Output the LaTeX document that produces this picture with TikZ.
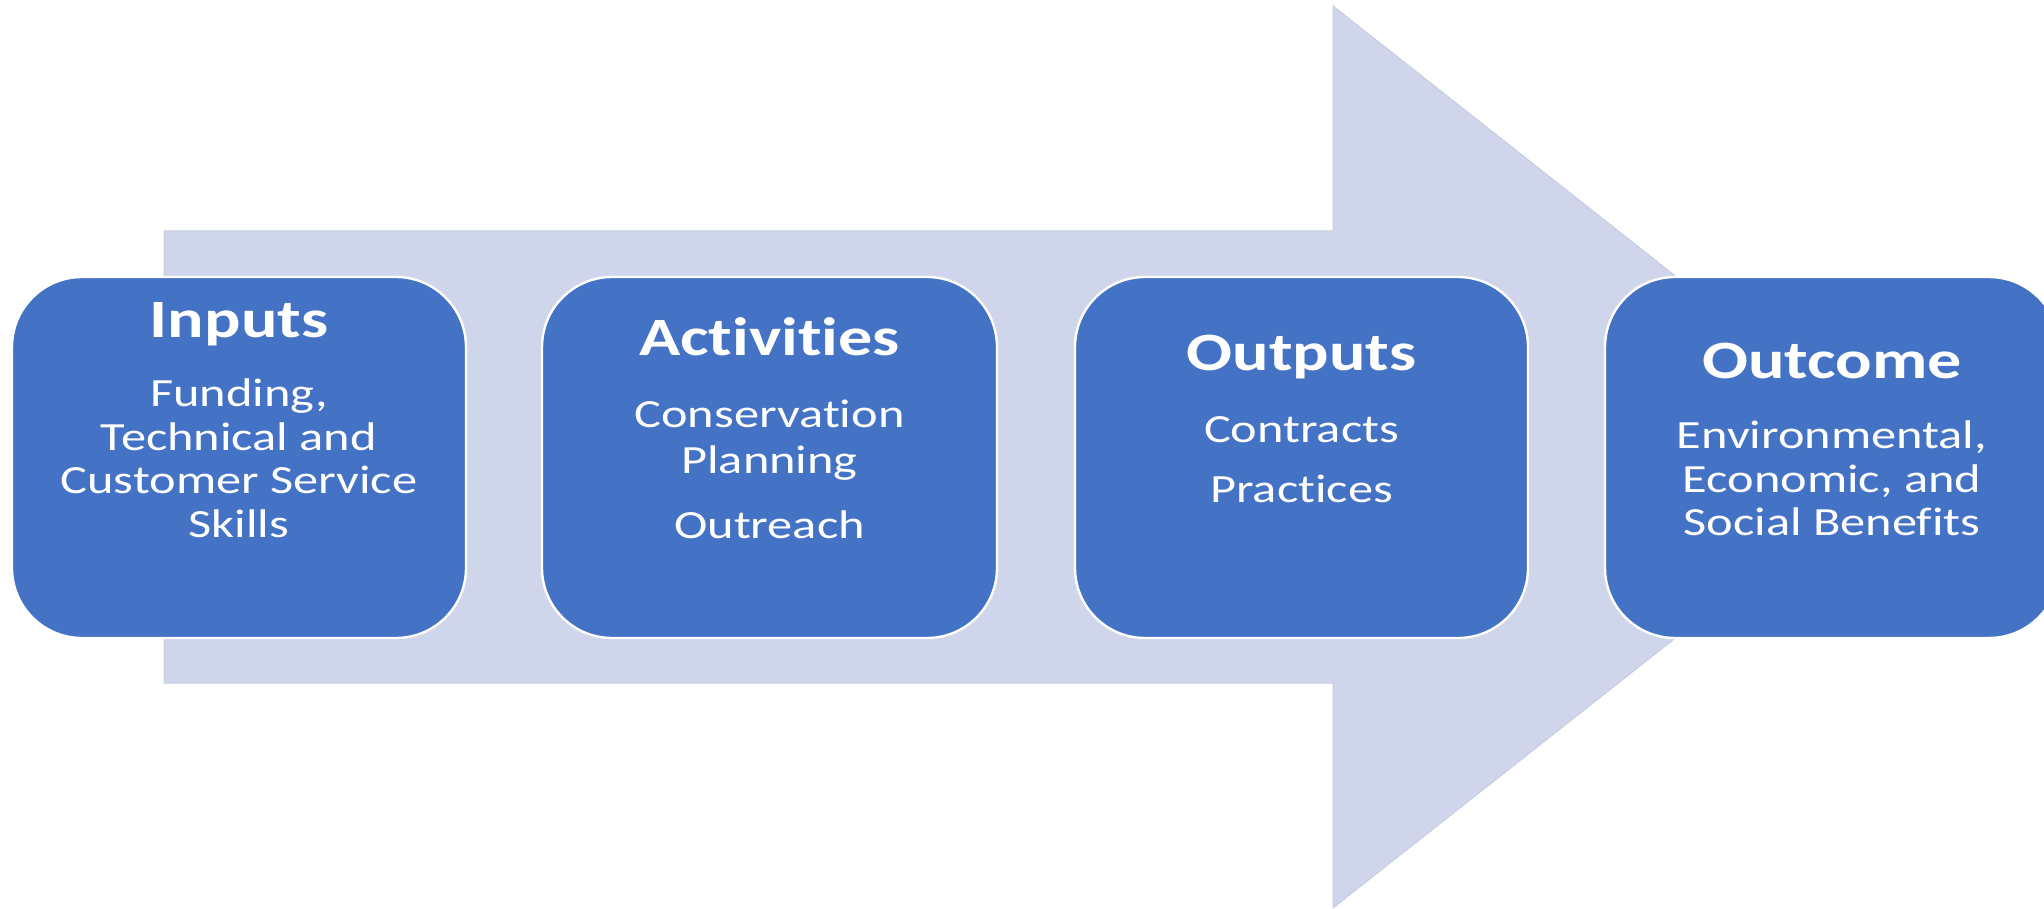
\documentclass[tikz,border=0pt]{standalone}
\usepackage{fontspec}
\newfontfamily\boxfont[FakeStretch=1.26, Ligatures={NoCommon}, RawFeature={-liga;-clig;-dlig}]{Carlito}
\definecolor{arrowfill}{HTML}{CFD5EA}
\definecolor{arrowline}{HTML}{C8CDE0}
\definecolor{boxfill}{HTML}{4472C4}
\tikzset{
  stepbox/.style={fill=boxfill, draw=white, line width=1.2pt, rounded corners=35pt},
  ttl/.style={anchor=base, text=white, inner sep=0pt, font=\boxfont\bfseries\fontsize{27}{30}\selectfont},
  bdy/.style={anchor=base, text=white, inner sep=0pt, font=\boxfont\fontsize{20}{22}\selectfont}
}
\begin{document}
\begin{tikzpicture}[x=0.5pt, y=-0.5pt]
\useasboundingbox (0,0) rectangle (2044,909);
\clip (0,0) rectangle (2044,909);
\fill[white] (0,0) rectangle (2044,909);
% big arrow
\draw[fill=arrowfill, draw=arrowline, line width=0.5pt]
  (164,231) -- (1333,231) -- (1333,6) -- (1905,457) -- (1333,908) -- (1333,683) -- (164,683) -- cycle;
% boxes
\draw[stepbox] (12,277) rectangle (466,638);
\draw[stepbox] (542,277) rectangle (997,638);
\draw[stepbox] (1075,277) rectangle (1528,638);
\draw[stepbox] (1605,277) rectangle (2059,638);
% Inputs
\node[ttl] (t1) at (239,337) {Inputs};
\node[bdy] (b1a) at (239,406) {Funding,};
\node[bdy] (b1b) at (239,450) {Technical and};
\node[bdy] (b1c) at (239,493) {Customer Service};
\node[bdy] (b1d) at (239,537) {Skills};
% Activities
\node[ttl] (t2) at (769.5,355) {Activities};
\node[bdy] (b2a) at (769.5,427) {Conservation};
\node[bdy] (b2b) at (769.5,473) {Planning};
\node[bdy] (b2c) at (769.5,538) {Outreach};
% Outputs
\node[ttl] (t3) at (1301.5,370) {Outputs};
\node[bdy] (b3a) at (1301.5,442) {Contracts};
\node[bdy] (b3b) at (1301.5,502) {Practices};
% Outcome
\node[ttl] (t4) at (1832,378) {Outcome};
\node[bdy] (b4a) at (1832,448) {Environmental,};
\node[bdy] (b4b) at (1832,492) {Economic, and};
\node[bdy] (b4c) at (1832,535) {Social Benefits};
\end{tikzpicture}
\end{document}
